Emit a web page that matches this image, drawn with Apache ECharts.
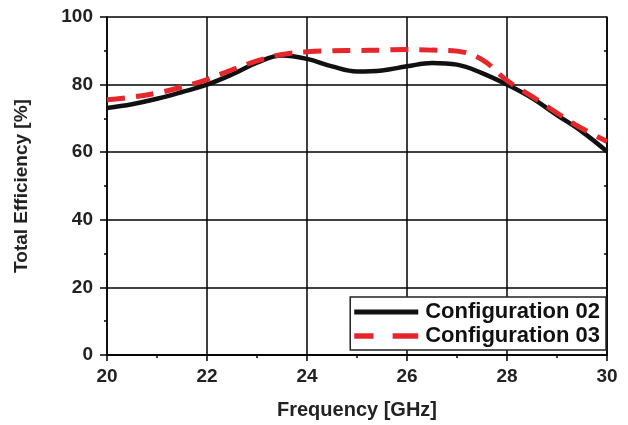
<!DOCTYPE html>
<html>
<head>
<meta charset="utf-8">
<script src="https://cdn.jsdelivr.net/npm/echarts@6/dist/echarts.min.js"></script>
<style>
  html, body { margin: 0; padding: 0; background: #fff; }
  #chart { width: 628px; height: 425px; }
</style>
</head>
<body>
<div id="chart"></div>
<script>
// frequency points [GHz]
const freq = [20, 20.5, 21, 21.5, 22, 22.5, 23, 23.5, 24, 24.5, 25, 25.5, 26, 26.5, 27, 27.5, 28, 28.5, 29, 29.5, 30]
// total efficiency [%]
const config02 = [73.1, 74.2, 75.8, 77.8, 80, 83, 86.5, 88.6, 87.6, 85.4, 83.9, 84.2, 85.4, 86.4, 85.9, 83.4, 80, 76, 71, 66.1, 60.2]
const config03 = [75.5, 76.3, 77.5, 79.3, 81.5, 84.4, 87, 88.9, 89.7, 90, 90.1, 90.2, 90.4, 90.2, 89.9, 87.4, 81.2, 76.5, 71.6, 67, 63.2]

const font = 'Liberation Sans, Arial, sans-serif'
const chart = echarts.init(document.getElementById('chart'))

const pairs = arr => freq.map((f, i) => [f, arr[i]])
const axisLine = { show: true, lineStyle: { color: '#000', width: 1.5 } }

const option = {
  animation: false,
  grid: { left: 107, right: 21, top: 17, bottom: 70, containLabel: false },
  xAxis: [
    {
      type: 'value', min: 20, max: 30, interval: 2,
      name: 'Frequency [GHz]', nameLocation: 'middle', nameGap: 45,
      nameTextStyle: { fontFamily: font, fontWeight: 'bold', fontSize: 20, color: '#222' },
      axisLine,
      axisTick: { length: 6, lineStyle: { color: '#000', width: 1.5 } },
      minorTick: { show: true, splitNumber: 2, length: 3, lineStyle: { color: '#000', width: 1.5 } },
      axisLabel: { fontFamily: font, fontWeight: 'bold', fontSize: 19, color: '#222', margin: 12 },
      splitLine: { show: true, lineStyle: { color: '#000', width: 1.5 } }
    },
    {
      type: 'value', min: 20, max: 30, interval: 2, position: 'top',
      axisLine,
      axisTick: { show: false, inside: true },
      minorTick: { show: true, splitNumber: 2, length: 3, lineStyle: { color: '#000', width: 1.5 } },
      axisLabel: { show: false }, splitLine: { show: false }
    }
  ],
  yAxis: [
    {
      type: 'value', min: 0, max: 100, interval: 20,
      name: 'Total Efficiency [%]', nameLocation: 'middle', nameGap: 76, nameRotate: 90,
      nameTextStyle: { fontFamily: font, fontWeight: 'bold', fontSize: 19, color: '#222' },
      axisLine,
      axisTick: { show: true, length: 7, lineStyle: { color: '#000', width: 1.5 } },
      minorTick: { show: true, splitNumber: 2, length: 3, lineStyle: { color: '#000', width: 1.5 } },
      axisLabel: { fontFamily: font, fontWeight: 'bold', fontSize: 19, color: '#222', margin: 14 },
      splitLine: { show: true, lineStyle: { color: '#000', width: 1.5 } }
    },
    {
      type: 'value', min: 0, max: 100, interval: 20, position: 'right',
      axisLine,
      axisTick: { show: false, inside: true },
      minorTick: { show: true, splitNumber: 2, length: 3, lineStyle: { color: '#000', width: 1.5 } },
      axisLabel: { show: false }, splitLine: { show: false }
    }
  ],
  legend: {
    orient: 'vertical', right: 22, bottom: 75,
    backgroundColor: '#fff', borderColor: '#222', borderWidth: 1.5, borderRadius: 0,
    padding: [4, 6, 3, 4], itemGap: 2, itemWidth: 64, itemHeight: 14,
    textStyle: { fontFamily: font, fontWeight: 'bold', fontSize: 22, color: '#111', padding: [0, 0, 0, 2] },
    data: [
      { name: 'Configuration 02', icon: 'path://M0,0 L64,0 L64,5 L0,5 Z' },
      { name: 'Configuration 03', icon: 'path://M0,0 L18,0 L18,5 L0,5 Z M36,0 L60,0 L60,5 L36,5 Z' }
    ]
  },
  series: [
    {
      name: 'Configuration 02', type: 'line', smooth: 0.4, showSymbol: false,
      data: pairs(config02), z: 3,
      itemStyle: { color: '#111' },
      lineStyle: { color: '#111', width: 4.5 }
    },
    {
      name: 'Configuration 03', type: 'line', smooth: 0.4, showSymbol: false,
      data: pairs(config03), z: 4,
      itemStyle: { color: '#e5262b' },
      lineStyle: { color: '#e5262b', width: 5, type: [18, 11] }
    }
  ]
}

chart.setOption(option)
</script>
</body>
</html>
